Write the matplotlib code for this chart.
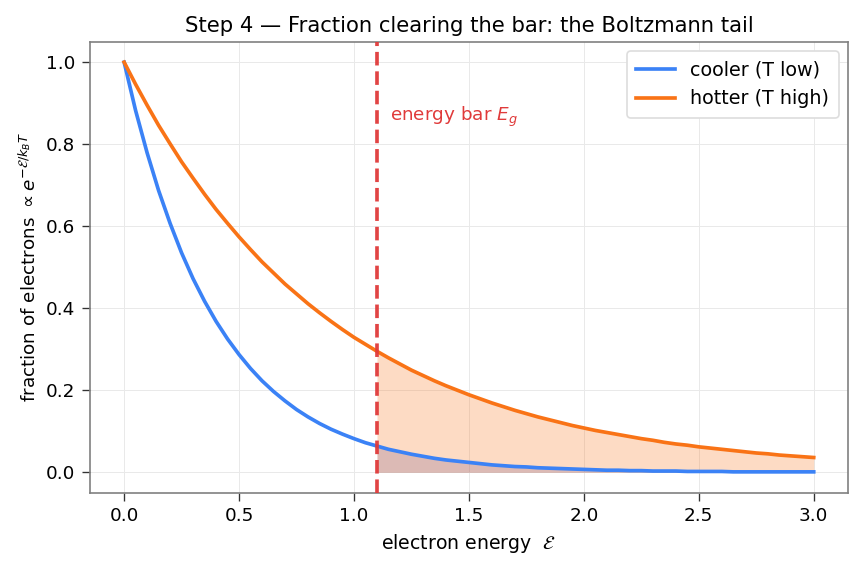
import matplotlib
matplotlib.use("Agg")
import matplotlib.pyplot as plt
import numpy as np

# electron energy samples (step 0.05 from 0 to 3.0)
energy = [round(0.05 * i, 2) for i in range(61)]

# cooler (T low) curve values
cooler = [1.000, 0.882, 0.779, 0.687, 0.607, 0.535, 0.472, 0.417, 0.368, 0.325,
          0.287, 0.253, 0.223, 0.197, 0.174, 0.153, 0.135, 0.119, 0.105, 0.093,
          0.082, 0.072, 0.064, 0.056, 0.050, 0.044, 0.039, 0.034, 0.030, 0.027,
          0.024, 0.021, 0.018, 0.016, 0.014, 0.013, 0.011, 0.010, 0.009, 0.008,
          0.007, 0.006, 0.005, 0.005, 0.004, 0.004, 0.003, 0.003, 0.003, 0.002,
          0.002, 0.002, 0.002, 0.001, 0.001, 0.001, 0.001, 0.001, 0.001, 0.001,
          0.001]

# hotter (T high) curve values
hotter = [1.000, 0.946, 0.895, 0.846, 0.801, 0.757, 0.717, 0.678, 0.641, 0.607,
          0.574, 0.543, 0.513, 0.486, 0.459, 0.435, 0.411, 0.389, 0.368, 0.348,
          0.329, 0.312, 0.295, 0.279, 0.264, 0.249, 0.236, 0.223, 0.211, 0.200,
          0.189, 0.179, 0.169, 0.160, 0.151, 0.143, 0.135, 0.128, 0.121, 0.114,
          0.108, 0.102, 0.097, 0.092, 0.087, 0.082, 0.078, 0.073, 0.069, 0.066,
          0.062, 0.059, 0.056, 0.053, 0.050, 0.047, 0.045, 0.042, 0.040, 0.038,
          0.036]

energy_bar = 1.1

labels = ["cooler (T low)", "hotter (T high)"]

BLUE = "#3b82f6"
ORANGE = "#f97316"
RED = "#e03a3a"

plt.rcParams["font.family"] = ["DejaVu Sans"]

fig, ax = plt.subplots(figsize=(8.62 / 1.2, 5.71 / 1.2), dpi=120)

E = np.array(energy)
c = np.array(cooler)
h = np.array(hotter)

ax.plot(E, c, color=BLUE, lw=2.2, label=labels[0], zorder=3)
ax.plot(E, h, color=ORANGE, lw=2.2, label=labels[1], zorder=3)

mask = E >= energy_bar - 1e-9
ax.fill_between(E[mask], 0, h[mask], color=ORANGE, alpha=0.25, lw=0, zorder=1)
ax.fill_between(E[mask], 0, c[mask], color="#7a5a8a", alpha=0.25, lw=0, zorder=2)

ax.axvline(energy_bar, color=RED, ls="--", lw=2.2, alpha=0.95, zorder=4)
ax.text(energy_bar + 0.055, 0.866, r"energy bar $E_g$", color=RED, fontsize=11,
        va="center", ha="left")

ax.set_title("Step 4 — Fraction clearing the bar: the Boltzmann tail", fontsize=12.7,
             pad=6)
ax.set_xlabel(r"electron energy  $\mathcal{E}$", fontsize=11.3)
ax.set_ylabel(r"fraction of electrons $\propto e^{-\mathcal{E}/k_BT}$", fontsize=11)

ax.grid(True, color="#e9e9e9", lw=0.6)
ax.set_axisbelow(True)
for s in ax.spines.values():
    s.set_color("#808080")
    s.set_linewidth(1.0)
ax.tick_params(labelsize=11, length=5, color="#333333")

ax.legend(loc="upper right", fontsize=11.5, framealpha=1.0, edgecolor="#dddddd",
          borderpad=0.5)

fig.subplots_adjust(left=0.104, right=0.984, top=0.927, bottom=0.137)
fig.savefig("out.png", dpi=120)
